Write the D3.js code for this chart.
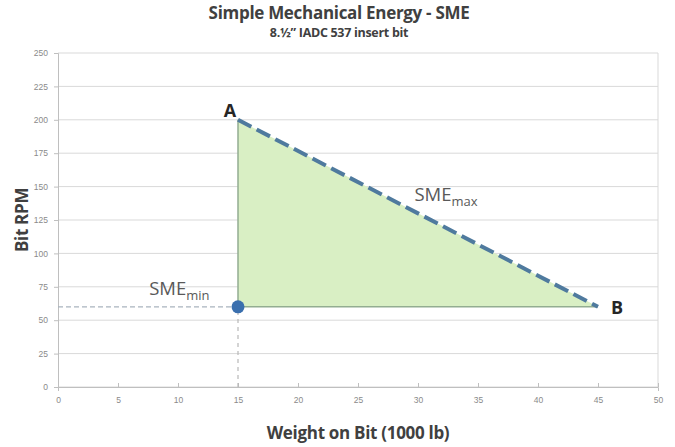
<!DOCTYPE html>
<html>
<head>
<meta charset="utf-8">
<script src="https://cdn.jsdelivr.net/npm/d3@7"></script>
<style>
  body { margin: 0; background: #fff; }
  svg { display: block; font-family: "Open Sans", "Liberation Sans", sans-serif; }
  .tick text { fill: #8a8a8a; font-size: 8.5px; }
</style>
</head>
<body>
<svg id="chart" width="675" height="447"></svg>
<script>
// SME chart data
const xTicks = [0, 5, 10, 15, 20, 25, 30, 35, 40, 45, 50];
const yTicks = [0, 25, 50, 75, 100, 125, 150, 175, 200, 225, 250];
const triangle = [[15, 200], [45, 60], [15, 60]];
const smeMax = [[15, 200], [45, 60]];
const smeMin = [15, 60];
const pointLabels = [
  { name: 'A', x: 15, y: 200 },
  { name: 'B', x: 45, y: 60 }
];

const W = 675, H = 447;
const margin = { left: 58, right: 17, top: 53, bottom: 60 };

const svg = d3.select('#chart');

const x = d3.scaleLinear().domain([0, 50]).range([margin.left, W - margin.right]);
const y = d3.scaleLinear().domain([0, 250]).range([H - margin.bottom, margin.top]);

// Rejilla horizontal
svg.append('g')
  .selectAll('line')
  .data(yTicks)
  .enter().append('line')
  .attr('x1', x(0)).attr('x2', x(50))
  .attr('y1', d => y(d)).attr('y2', d => y(d))
  .attr('stroke', '#d9d9d9').attr('stroke-width', 1);

// Borde derecho
svg.append('line')
  .attr('x1', x(50)).attr('x2', x(50))
  .attr('y1', y(0)).attr('y2', y(250))
  .attr('stroke', '#d9d9d9');

// Ejes
const gx = svg.append('g')
  .attr('transform', `translate(0,${y(0)})`)
  .call(d3.axisBottom(x).tickValues(xTicks).tickSize(4).tickPadding(6));
gx.select('.domain').attr('stroke', '#bfbfbf');
gx.selectAll('.tick line').attr('stroke', '#bfbfbf').attr('y1', -4).attr('y2', 0);

const gy = svg.append('g')
  .attr('transform', `translate(${x(0)},0)`)
  .call(d3.axisLeft(y).tickValues(yTicks).tickSize(4).tickPadding(6));
gy.select('.domain').attr('stroke', '#bfbfbf');
gy.selectAll('.tick line').attr('stroke', '#bfbfbf');

// Lineas de referencia punteadas
svg.append('line')
  .attr('x1', x(0)).attr('x2', x(smeMin[0]))
  .attr('y1', y(smeMin[1])).attr('y2', y(smeMin[1]))
  .attr('stroke', '#a9b4be').attr('stroke-width', 1.2)
  .attr('stroke-dasharray', '5,3');
svg.append('line')
  .attr('x1', x(smeMin[0])).attr('x2', x(smeMin[0]))
  .attr('y1', y(0)).attr('y2', y(smeMin[1]))
  .attr('stroke', '#b8b8b8').attr('stroke-width', 1.2)
  .attr('stroke-dasharray', '4,4');

// Triangulo
const line = d3.line().x(d => x(d[0])).y(d => y(d[1]));
svg.append('path')
  .attr('d', line(triangle) + 'Z')
  .attr('fill', '#d9efc4')
  .attr('stroke', 'none');
svg.append('path')
  .attr('d', line([triangle[0], triangle[2], triangle[1]]))
  .attr('fill', 'none')
  .attr('stroke', '#93ad91').attr('stroke-width', 1.5);

// SME max
svg.append('path')
  .attr('d', line(smeMax))
  .attr('fill', 'none')
  .attr('stroke', '#4f7a9e').attr('stroke-width', 4)
  .attr('stroke-dasharray', '15,6');

// Punto SME min
svg.append('circle')
  .attr('cx', x(smeMin[0])).attr('cy', y(smeMin[1]))
  .attr('r', 6.5)
  .attr('fill', '#3a6fae');

// Etiquetas A y B
svg.selectAll('.pt-label')
  .data(pointLabels)
  .enter().append('text')
  .attr('class', 'pt-label')
  .attr('x', d => d.name === 'A' ? x(d.x) - 8 : x(d.x) + 19)
  .attr('y', d => d.name === 'A' ? y(d.y) - 3 : y(d.y) + 7)
  .attr('text-anchor', 'middle')
  .attr('font-size', 18).attr('font-weight', 'bold')
  .attr('fill', '#262626')
  .text(d => d.name);

// SME min / max
function smeLabel(px, py, sub) {
  const t = svg.append('text')
    .attr('x', px).attr('y', py)
    .attr('fill', '#595959').attr('font-size', 18.5);
  t.append('tspan').text('SME');
  t.append('tspan').attr('font-size', 13).attr('dy', 5).text(sub);
}
smeLabel(x(7.6), y(69), 'min');
smeLabel(x(29.7), y(139), 'max');

// Titulos
svg.append('text')
  .attr('x', 339).attr('y', 19)
  .attr('text-anchor', 'middle')
  .attr('font-size', 17).attr('font-weight', 'bold').attr('fill', '#404040')
  .attr('letter-spacing', -0.3)
  .text('Simple Mechanical Energy - SME');
svg.append('text')
  .attr('x', 339).attr('y', 37)
  .attr('text-anchor', 'middle')
  .attr('font-size', 12.5).attr('font-weight', 'bold').attr('fill', '#404040')
  .attr('letter-spacing', -0.3)
  .text('8.½” IADC 537 insert bit');

svg.append('text')
  .attr('x', 358).attr('y', 439)
  .attr('text-anchor', 'middle')
  .attr('font-size', 17).attr('font-weight', 'bold').attr('fill', '#404040')
  .attr('letter-spacing', -0.3)
  .text('Weight on Bit (1000 lb)');
svg.append('text')
  .attr('transform', `translate(28,${y(125)}) rotate(-90)`)
  .attr('text-anchor', 'middle')
  .attr('font-size', 17).attr('font-weight', 'bold').attr('fill', '#404040')
  .attr('letter-spacing', -0.3)
  .text('Bit RPM');
</script>
</body>
</html>
